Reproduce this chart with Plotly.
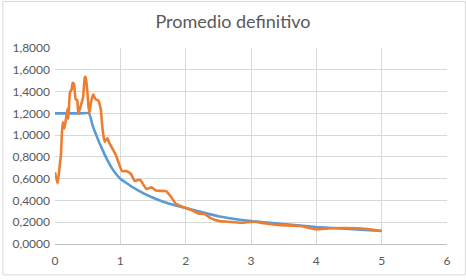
import plotly.graph_objects as go

# Blue series (design spectrum)
blue_t = [0, 0.1, 0.2, 0.3, 0.4, 0.52, 0.575, 0.625, 0.675, 0.727, 0.777, 0.878, 1.0,
          1.25, 1.5, 1.75, 2.0, 2.5, 3.0, 3.5, 4.0, 4.5, 5.0]
blue_v = [1.2, 1.2, 1.2, 1.2, 1.2, 1.2, 1.09, 1.01, 0.935, 0.865, 0.80, 0.69, 0.60,
          0.50, 0.425, 0.37, 0.33, 0.255, 0.21, 0.183, 0.156, 0.138, 0.12]

# Orange series (average record)
orange_t = [0, 0.04, 0.076, 0.09, 0.117, 0.143, 0.168, 0.19, 0.204, 0.229, 0.255, 0.27,
            0.29, 0.316, 0.34, 0.357, 0.39, 0.43, 0.457, 0.47, 0.50, 0.524, 0.55, 0.585,
            0.62, 0.66, 0.70, 0.727, 0.76, 0.80, 0.834, 0.89, 0.93, 0.966, 1.027, 1.09,
            1.16, 1.22, 1.30, 1.40, 1.474, 1.55, 1.70, 1.78, 1.85, 1.98, 2.08, 2.19, 2.29,
            2.39, 2.52, 2.64, 2.85, 3.05, 3.20, 3.41, 3.76, 3.99, 4.22, 4.62, 4.78, 5.0]
orange_v = [0.66, 0.556, 0.745, 0.81, 1.12, 1.06, 1.15, 1.24, 1.15, 1.39, 1.42, 1.48,
            1.47, 1.33, 1.32, 1.195, 1.26, 1.35, 1.53, 1.535, 1.36, 1.195, 1.30, 1.375,
            1.33, 1.32, 1.24, 1.06, 0.94, 0.97, 0.925, 0.865, 0.82, 0.76, 0.67, 0.67,
            0.645, 0.58, 0.59, 0.505, 0.52, 0.49, 0.485, 0.43, 0.37, 0.335, 0.315, 0.28, 0.275,
            0.235, 0.21, 0.205, 0.195, 0.205, 0.19, 0.175, 0.165, 0.135, 0.145, 0.145, 0.137, 0.12]

x_ticks = [0, 1, 2, 3, 4, 5, 6]
y_ticks = [0, 0.2, 0.4, 0.6, 0.8, 1.0, 1.2, 1.4, 1.6, 1.8]

W, H = 466, 280
L, R, T, B = 53, 19, 48, 32
pw, ph = W - L - R, H - T - B

fig = go.Figure()
fig.add_trace(go.Scatter(x=blue_t, y=blue_v, mode="lines",
                         line=dict(color="#5B9BD5", width=2.6, shape="spline", smoothing=0.4),
                         showlegend=False))
fig.add_trace(go.Scatter(x=orange_t, y=orange_v, mode="lines",
                         line=dict(color="#ED7D31", width=2.6, shape="spline", smoothing=0.5),
                         showlegend=False))

fig.update_layout(
    width=W, height=H,
    margin=dict(l=L, r=R, t=T, b=B),
    paper_bgcolor="white", plot_bgcolor="white",
    separators=",.",
    title=dict(text="Promedio definitivo", x=0.5, xanchor="center", y=1 - 22 / H, yanchor="middle",
               font=dict(family="Lato", size=18, color="#595959")),
    font=dict(family="Lato", size=12, color="#595959"),
    xaxis=dict(range=[0, 6], tickvals=x_ticks, showgrid=True, gridcolor="#D9D9D9", gridwidth=1,
               zeroline=False, showline=True, linecolor="#BFBFBF", linewidth=1,
               ticks="", ticklabelstandoff=6,
               tickfont=dict(size=12, color="#595959"), fixedrange=True),
    yaxis=dict(range=[0, 1.8], tickvals=y_ticks, tickformat=".4f", showgrid=True,
               gridcolor="#D9D9D9", gridwidth=1, zeroline=False, showline=False,
               ticks="", ticklabelstandoff=4,
               tickfont=dict(size=12, color="#595959"), fixedrange=True),
    shapes=[dict(type="rect", xref="paper", yref="paper",
                 x0=(0.5 - L) / pw, x1=1 + (R - 0.5) / pw,
                 y0=-(B - 0.5) / ph, y1=1 + (T - 0.5) / ph,
                 line=dict(color="#D9D9D9", width=1), fillcolor="rgba(0,0,0,0)", layer="below")],
)

fig.write_html("out.html")
